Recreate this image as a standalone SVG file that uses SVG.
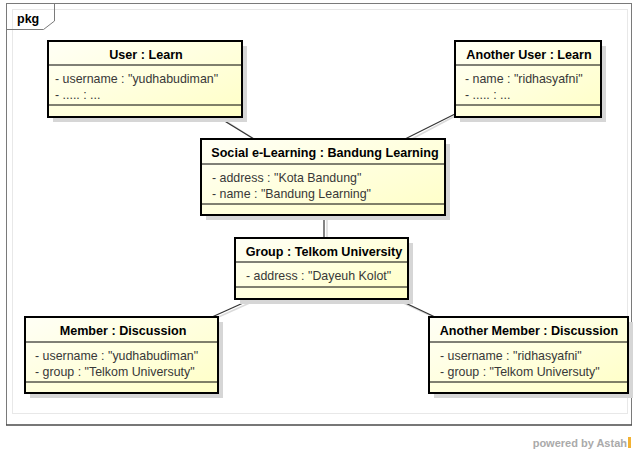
<svg xmlns="http://www.w3.org/2000/svg" width="639" height="455" viewBox="0 0 639 455">
<style>
.bg{fill:#ffffff}
.frame{fill:none;stroke:#7a7a7a;stroke-width:1}
.inner{fill:none;stroke:#e8e8e8;stroke-width:1}
.shadow{fill:#d6d6d6}
.box{fill:url(#yg);stroke:#000;stroke-width:2}
.sep{stroke:#000;stroke-width:1}
.hd{font-family:"Liberation Sans",Arial,sans-serif;font-weight:bold;font-size:12.6px;fill:#000;text-anchor:middle}
.at{font-family:"Liberation Sans",Arial,sans-serif;font-size:12.4px;fill:#383838}
.pkg{font-family:"Liberation Sans",Arial,sans-serif;font-weight:bold;font-size:12.5px;fill:#000}
.ln{stroke:#333;stroke-width:1.2;fill:none}
.lns{stroke:#dadada;stroke-width:1.5;fill:none}
.pw{font-family:"Liberation Sans",Arial,sans-serif;font-weight:bold;font-size:11px;fill:#aaaaaa;text-anchor:end}
</style>
<defs>
<linearGradient id="yg" x1="0" y1="0" x2="1" y2="1">
<stop offset="0" stop-color="#fffff6"/>
<stop offset="1" stop-color="#ffffc6"/>
</linearGradient>
</defs>
<rect class="bg" x="0" y="0" width="639" height="455"/>
<g id="frame">
<rect class="inner" x="12.5" y="9.5" width="615" height="404"/>
<rect class="frame" x="6.5" y="3.5" width="625" height="421.5"/>
<line x1="6" y1="425" x2="632" y2="425" stroke="#333" stroke-width="1.2"/>
<path class="frame" d="M6.5,29.5 H43.5 L54.5,21 V3.5"/>
<text class="pkg" x="17" y="23">pkg</text>
</g>
<g id="connectors">
<line class="lns" x1="221" y1="118" x2="257" y2="141"/>
<line class="lns" x1="457" y1="115" x2="408" y2="141"/>
<line class="lns" x1="327" y1="216" x2="327" y2="238"/>
<line class="lns" x1="254" y1="301" x2="214" y2="319"/>
<line class="lns" x1="399" y1="301" x2="438" y2="319"/>
<line class="ln" x1="218" y1="117" x2="254" y2="139"/>
<line class="ln" x1="455" y1="114" x2="405" y2="139"/>
<line class="ln" x1="324" y1="215" x2="324" y2="238"/>
<line class="ln" x1="252" y1="299" x2="212" y2="317"/>
<line class="ln" x1="397" y1="299" x2="435" y2="317"/>
</g>
<g id="user">
<rect class="shadow" x="53" y="46" width="194" height="76"/>
<rect class="box" x="48" y="41" width="194" height="76"/>
<line class="sep" x1="48" y1="65" x2="242" y2="65"/>
<line class="sep" x1="48" y1="105" x2="242" y2="105"/>
<text class="hd" x="146" y="59">User : Learn</text>
<text class="at" x="55" y="83">- username : "yudhabudiman"</text>
<text class="at" x="55" y="99">- ..... : ...</text>
</g>
<g id="another-user">
<rect class="shadow" x="460" y="46" width="146" height="76"/>
<rect class="box" x="455" y="41" width="146" height="76"/>
<line class="sep" x1="455" y1="65" x2="601" y2="65"/>
<line class="sep" x1="455" y1="105" x2="601" y2="105"/>
<text class="hd" x="529" y="59">Another User : Learn</text>
<text class="at" x="465" y="83">- name : "ridhasyafni"</text>
<text class="at" x="465" y="99">- ..... : ...</text>
</g>
<g id="social">
<rect class="shadow" x="206" y="144" width="244" height="76"/>
<rect class="box" x="201" y="139" width="244" height="76"/>
<line class="sep" x1="201" y1="164" x2="445" y2="164"/>
<line class="sep" x1="201" y1="204" x2="445" y2="204"/>
<text class="hd" x="325" y="157">Social e-Learning : Bandung Learning</text>
<text class="at" x="212" y="182">- address : "Kota Bandung"</text>
<text class="at" x="212" y="198">- name : "Bandung Learning"</text>
</g>
<g id="group">
<rect class="shadow" x="240" y="243" width="173" height="61"/>
<rect class="box" x="235" y="238" width="173" height="61"/>
<line class="sep" x1="235" y1="262" x2="408" y2="262"/>
<line class="sep" x1="235" y1="287" x2="408" y2="287"/>
<text class="hd" x="324" y="256">Group : Telkom University</text>
<text class="at" x="246" y="280">- address : "Dayeuh Kolot"</text>
</g>
<g id="member">
<rect class="shadow" x="30" y="322" width="193" height="76"/>
<rect class="box" x="25" y="317" width="193" height="76"/>
<line class="sep" x1="25" y1="342" x2="218" y2="342"/>
<line class="sep" x1="25" y1="382" x2="218" y2="382"/>
<text class="hd" x="123" y="335">Member : Discussion</text>
<text class="at" x="35" y="360">- username : "yudhabudiman"</text>
<text class="at" x="35" y="376">- group : "Telkom Universuty"</text>
</g>
<g id="another-member">
<rect class="shadow" x="434" y="322" width="199" height="76"/>
<rect class="box" x="429" y="317" width="199" height="76"/>
<line class="sep" x1="429" y1="342" x2="628" y2="342"/>
<line class="sep" x1="429" y1="382" x2="628" y2="382"/>
<text class="hd" x="529" y="335">Another Member : Discussion</text>
<text class="at" x="440" y="360">- username : "ridhasyafni"</text>
<text class="at" x="440" y="376">- group : "Telkom Universuty"</text>
</g>
<g id="powered">
<text class="pw" x="627" y="447">powered by Astah</text>
<rect x="628" y="437" width="3" height="11" fill="#f2b233"/>
</g>
</svg>
